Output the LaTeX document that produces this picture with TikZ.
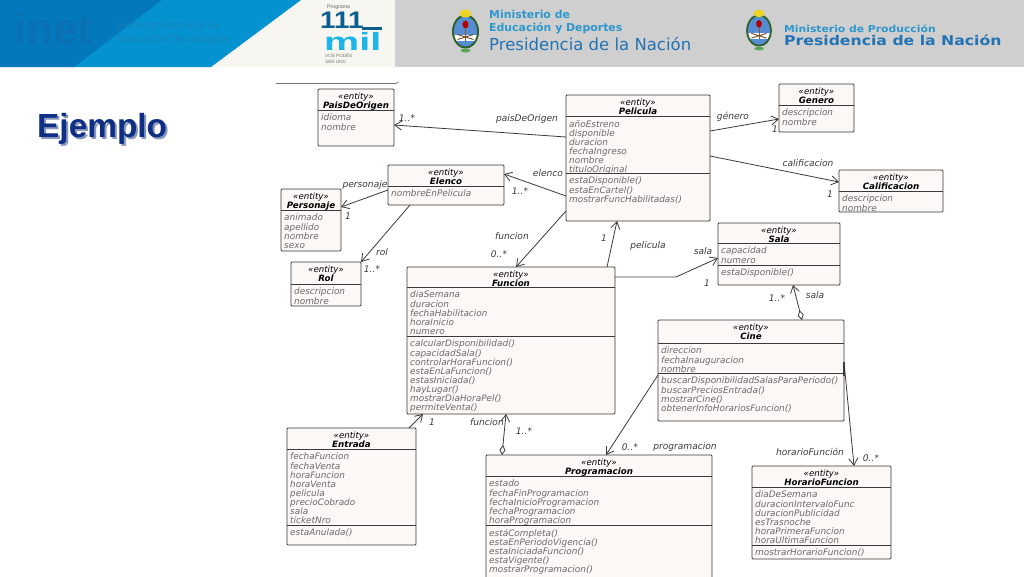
\documentclass[tikz,border=0pt]{standalone}
\usepackage{fontspec}
\usepackage{graphicx}
\setmainfont{DejaVu Sans}
\newfontfamily\arialf{Liberation Sans}
\newfontfamily\opensf{Open Sans}
\usetikzlibrary{arrows.meta}
\setlength{\lineskiplimit}{-9pt}
\setlength{\normallineskiplimit}{-9pt}
\definecolor{boxfill}{HTML}{FBF8F5}
\definecolor{boxline}{HTML}{3A3A3A}
\definecolor{memb}{HTML}{6A6A6A}
\definecolor{lab}{HTML}{3C3C3C}
\definecolor{blueA}{HTML}{0478BC}
\definecolor{blueB}{HTML}{0493D0}
\definecolor{cream}{HTML}{F8F6F0}
\definecolor{headgray}{HTML}{CFCFCF}
\definecolor{minA}{HTML}{2E97CC}
\definecolor{minB}{HTML}{2272B4}
\definecolor{ejem}{HTML}{0E2F85}
\definecolor{ejemS}{HTML}{8A98BC}
\definecolor{logoD}{HTML}{0B5F8F}
\definecolor{logoC}{HTML}{1BB5EA}
\definecolor{inetT}{HTML}{0A70B4}
\definecolor{instT}{HTML}{1C80B8}
\tikzset{
  ebox/.style={draw=boxline,fill=boxfill,line width=0.9pt,rounded corners=1pt,inner sep=0pt,outer sep=0pt},
  divline/.style={draw=boxline,line width=0.7pt},
  etitle/.style={anchor=north,align=center,inner sep=0pt,font=\fontsize{8.6}{9.1}\selectfont\itshape,text=black},
  emembers/.style={anchor=north west,align=left,inner sep=0pt,font=\fontsize{8.9}{9.1}\selectfont\itshape,text=memb},
  assoc/.style={draw=boxline,line width=0.8pt,-{Straight Barb[length=7pt,width=9pt]}},
  aggr/.style={draw=boxline,line width=0.8pt,{Diamond[open,length=10pt,width=6pt,fill=white]}-{Straight Barb[length=7pt,width=9pt]}},
  conlab/.style={inner sep=0pt,font=\fontsize{9.1}{9}\selectfont\itshape,text=lab},
  headtxt/.style={anchor=west,inner sep=0pt},
}
\def\parsebox#1,#2,#3,#4\relax{\def\xa{#1}\def\ya{#2}\def\xb{#3}\def\yb{#4}}
% id, {x0,y0,x1,y1}, div1, div2, title, attributes, operations
\newcommand{\entity}[7]{%
  \parsebox#2\relax
  \pgfmathsetmacro{\xc}{(\xa+\xb)/2}\pgfmathsetmacro{\yc}{(\ya+\yb)/2}%
  \pgfmathsetmacro{\bw}{\xb-\xa}\pgfmathsetmacro{\bh}{\yb-\ya}%
  \node[ebox,minimum width=\bw pt,minimum height=\bh pt] (#1) at (\xc,\yc) {};
  \draw[divline] (\xa,#3) -- (\xb,#3);
  \node[etitle] (#1-title) at (\xc,\ya+3.5) {\strut «entity»\\\fontsize{8.7}{9.1}\selectfont\textbf{#5}};
  \node[emembers] (#1-attrs) at (\xa+3,#3+4) {\strut #6};
  \if\relax\detokenize{#4}\relax\else
    \draw[divline] (\xa,#4) -- (\xb,#4);
    \node[emembers] (#1-ops) at (\xa+3,#4+4) {\strut #7};
  \fi
}
\newcommand{\escudo}[3]{%
  \begin{scope}[shift={(#1,#2)},scale=#3]
    \fill[boxline!80!green] (0,0) ellipse (13.5 and 17);
    \begin{scope}
      \clip (0,0) ellipse (11.5 and 15);
      \fill[cyan!50!blue!70] (-12,-15) rectangle (12,3);
      \fill[white] (-12,3) rectangle (12,9);
      \fill[cyan!50!blue!70] (-12,9) rectangle (12,15);
    \end{scope}
    \fill[red!70!black] (0,-7) ellipse (3 and 4);
    \draw[brown!70!black,line width=0.9pt] (0,-4) -- (0,9);
    \draw[brown!60!black,line width=0.9pt] (-8,8) -- (8,3) (-8,3) -- (8,8);
    \fill[yellow!70!brown] (0,-18) ellipse (6 and 4);
    \fill[green!30!gray] (0,19) ellipse (5 and 2);
  \end{scope}
}
\begin{document}
\begin{tikzpicture}[x=1pt,y=-1pt]
\useasboundingbox (0,0) rectangle (1024,576);
\clip (0,0) rectangle (1024,576);
\fill[white] (0,0) rectangle (1024,576);
% header band
\fill[headgray] (395,0) rectangle (1024,67);
\fill[cream] (295,0) -- (395,0) -- (395,67) -- (205,67) -- cycle;
\fill[blueB] (150,0) -- (301,0) -- (211,67) -- (70,67) -- cycle;
\fill[blueA] (0,0) -- (162,0) -- (74,67) -- (0,67) -- cycle;
\node[headtxt,font=\arialf\bfseries\fontsize{44}{44}\selectfont,text=inetT] (inet) at (14,29) {inet};
\node[headtxt,font=\opensf\fontsize{10.7}{12.5}\selectfont,text=instT,align=left] (inst) at (117,33) {Instituto Nacional de\\Educación Tecnológica};
% 111 mil logo
\node[headtxt,font=\arialf\fontsize{5.2}{6}\selectfont,text=black!60] (prog) at (327,7.5) {Programa};
\node[headtxt,font=\arialf\bfseries\fontsize{24}{24}\selectfont,text=logoD] (uno) at (320,20) {\scalebox{1.16}[1]{111}};
\fill[logoD] (362,27) rectangle (382,30);
\node[headtxt,font=\arialf\bfseries\fontsize{25}{25}\selectfont,text=logoC] (mil) at (324,41.5) {\scalebox{1.58}[1]{mil}};
\node[headtxt,font=\arialf\fontsize{4.6}{5.2}\selectfont,text=black!55,align=left] (vos) at (325,58.5) {VOS PODÉS\\SER UNO};
% ministries
\escudo{465.5}{31.5}{1}
\node[headtxt,font=\bfseries\fontsize{10.9}{12.2}\selectfont,text=minA,align=left] (min1) at (489,22) {Ministerio de\\Educación y Deportes};
\node[headtxt,font=\fontsize{16.5}{16}\selectfont,text=minB] (min2) at (489,44) {Presidencia de la Nación};
\escudo{759}{30.5}{0.95}
\node[headtxt,font=\bfseries\fontsize{9.6}{10}\selectfont,text=minA] (min3) at (784,28.5) {\scalebox{1.125}[1]{Ministerio de Producción}};
\node[headtxt,font=\bfseries\fontsize{13.4}{14}\selectfont,text=minB] (min4) at (784,40) {\scalebox{1.17}[1]{Presidencia de la Nación}};
% title
\node[headtxt,font=\arialf\bfseries\fontsize{33.4}{34}\selectfont,text=ejemS] (ejemploS) at (39,130.5) {Ejemplo};
\node[headtxt,font=\arialf\bfseries\fontsize{33.4}{34}\selectfont,text=ejem] (ejemplo) at (37,129) {Ejemplo};
% stray rule above the diagram
\draw[black!55,line width=0.6pt] (276,83.5) -- (396,83.5) -- (399,82);
% entities
\entity{pais}{318,89,394,146}{110}{}{PaisDeOrigen}{idioma\\nombre}{}
\entity{pelicula}{566,95,710,221}{116}{173}{Pelicula}{añoEstreno\\disponible\\duracion\\fechaIngreso\\nombre\\tituloOriginal}{estaDisponible()\\estaEnCartel()\\mostrarFuncHabilitadas()}
\entity{genero}{779,84,854,132}{105}{}{Genero}{descripcion\\nombre}{}
\entity{calif}{839,170,943,212}{191}{}{Calificacion}{descripcion\\nombre}{}
\entity{sala}{718,223,840,285}{243}{265}{Sala}{capacidad\\numero}{estaDisponible()}
\entity{elenco}{388,165,504,205}{186}{}{Elenco}{nombreEnPelicula}{}
\entity{personaje}{281,189,341,251}{210}{}{Personaje}{animado\\apellido\\nombre\\sexo}{}
\entity{rol}{291,262,361,306}{284}{}{Rol}{descripcion\\nombre}{}
\entity{funcion}{407,267,615,414}{287}{336}{Funcion}{diaSemana\\duracion\\fechaHabilitacion\\horaInicio\\numero}{calcularDisponibilidad()\\capacidadSala()\\controlarHoraFuncion()\\estaEnLaFuncion()\\estasIniciada()\\hayLugar()\\mostrarDiaHoraPel()\\permiteVenta()}
\entity{entrada}{287,428,416,545}{449}{525}{Entrada}{fechaFuncion\\fechaVenta\\horaFuncion\\horaVenta\\pelicula\\precioCobrado\\sala\\ticketNro}{estaAnulada()}
\entity{program}{486,455,712,580}{476}{525}{Programacion}{estado\\fechaFinProgramacion\\fechaInicioProgramacion\\fechaProgramacion\\horaProgramacion}{estáCompleta()\\estaEnPeriodoVigencia()\\estaIniciadaFuncion()\\estaVigente()\\mostrarProgramacion()}
\entity{cine}{658,320,844,421}{343}{373}{Cine}{direccion\\fechaInauguracion\\nombre}{buscarDisponibilidadSalasParaPeriodo()\\buscarPreciosEntrada()\\mostrarCine()\\obtenerInfoHorariosFuncion()}
\entity{horario}{752,466,891,559}{487}{545}{HorarioFuncion}{diaDeSemana\\duracionIntervaloFunc\\duracionPublicidad\\esTrasnoche\\horaPrimeraFuncion\\horaUltimaFuncion}{mostrarHorarioFuncion()}
% connectors
\draw[assoc] ([yshift=21pt]pelicula.west) -- ([yshift=-7.5pt]pais.east);
\draw[assoc] ([yshift=-38pt]pelicula.west) -- ([yshift=11pt]elenco.east);
\draw[assoc] ([yshift=-5pt]elenco.west) -- ([yshift=13pt]personaje.east);
\draw[assoc] ([xshift=-36pt]elenco.south) -- ([xshift=35pt]rol.north);
\draw[assoc] ([yshift=-53pt]pelicula.west) -- ([xshift=5pt]funcion.north);
\draw[assoc] ([xshift=96pt]funcion.north) -- ([xshift=-21pt]pelicula.south);
\coordinate (bend) at (676,277);
\draw[assoc] ([yshift=63.5pt]funcion.east) -- (bend) -- ([yshift=-4pt]sala.west);
\draw[aggr] ([xshift=51pt]cine.north) -- ([xshift=14pt]sala.south);
\draw[assoc] ([yshift=27pt]pelicula.east) -- ([yshift=-11pt]genero.west);
\draw[assoc] ([yshift=2pt]pelicula.east) -- ([yshift=9pt]calif.west);
\draw[assoc] ([xshift=57.5pt]entrada.north) -- ([xshift=-88pt]funcion.south);
\draw[aggr] ([xshift=-97pt]program.north) -- ([xshift=-5pt]funcion.south);
\draw[assoc] ([yshift=-4.5pt]cine.west) -- ([xshift=7pt]program.north);
\draw[assoc] ([yshift=8.5pt]cine.east) -- ([xshift=32.5pt]horario.north);
\draw[boxline,line width=1.1pt] ([yshift=8.5pt]cine.east) -- ([yshift=-5pt]cine.east);
% connector labels
\node[conlab] (l1) at (407,118) {1..*};
\node[conlab] (l2) at (527,119) {paisDeOrigen};
\node[conlab] (l3) at (548,173) {elenco};
\node[conlab] (l4) at (520,191) {1..*};
\node[conlab] (l5) at (365,185) {personaje};
\node[conlab] (l6) at (348,216) {1};
\node[conlab] (l7) at (382,252) {rol};
\node[conlab] (l8) at (372,269) {1..*};
\node[conlab] (l9) at (512,236) {funcion};
\node[conlab] (l10) at (499,254) {0..*};
\node[conlab] (l11) at (604,238) {1};
\node[conlab] (l12) at (648,246) {pelicula};
\node[conlab] (l13) at (703,251) {sala};
\node[conlab] (l14) at (707,283) {1};
\node[conlab] (l15) at (733,117) {género};
\node[conlab] (l16) at (775,129) {1};
\node[conlab] (l17) at (808,163) {calificacion};
\node[conlab] (l18) at (830,194) {1};
\node[conlab] (l19) at (777,298) {1..*};
\node[conlab] (l20) at (815,295) {sala};
\node[conlab] (l21) at (432,422) {1};
\node[conlab] (l22) at (487,422) {funcion};
\node[conlab] (l23) at (524,431) {1..*};
\node[conlab] (l24) at (630,447) {0..*};
\node[conlab] (l25) at (685,447) {programacion};
\node[conlab] (l26) at (810,452) {horarioFunción};
\node[conlab] (l27) at (871,458) {0..*};
\end{tikzpicture}
\end{document}
